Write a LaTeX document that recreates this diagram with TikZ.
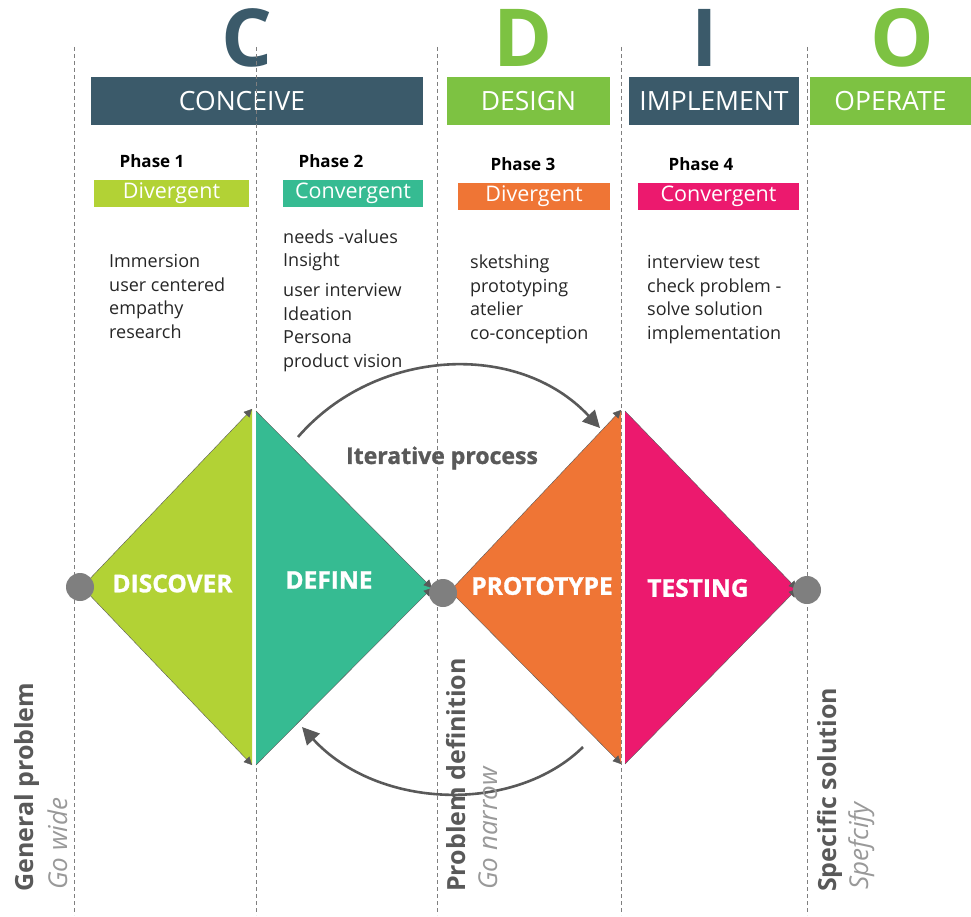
\documentclass[tikz,border=0pt]{standalone}
\usepackage{fontspec}
\setmainfont{Open Sans}
\newfontfamily\heavy[BoldFeatures={FakeBold=1.2}]{Open Sans}
\usetikzlibrary{arrows.meta}

\definecolor{slate}{HTML}{3B5A6A}
\definecolor{leaf}{HTML}{7DC242}
\definecolor{lime}{HTML}{B2D235}
\definecolor{mint}{HTML}{36BB92}
\definecolor{tangerine}{HTML}{EF7535}
\definecolor{rose}{HTML}{EC196E}
\definecolor{ink}{HTML}{595959}
\definecolor{dotgray}{HTML}{7F7F7F}
\definecolor{body}{HTML}{262626}

\newcommand{\pts}[1]{\fontsize{#1}{#1}\selectfont}

\begin{document}
\begin{tikzpicture}[x=1pt,y=-1pt,
  letter/.style={font=\pts{80}\bfseries},
  bar/.style={minimum height=48pt,inner sep=0pt,text=white,font=\pts{26.5}},
  phase/.style={font=\pts{17}\bfseries},
  mode/.style={minimum height=27pt,inner sep=0pt,text=white,font=\pts{21.5}},
  notes/.style={anchor=base west,align=left,inner sep=0pt,text=body,font=\fontsize{18}{23.4}\selectfont},
  sep/.style={dotgray,line width=0.8pt,dash pattern=on 4pt off 3pt},
  stage/.style={text=white,font=\pts{24.5}\heavy\bfseries},
  dot/.style={circle,fill=dotgray,minimum size=28pt,inner sep=0pt},
  edge/.style={draw=ink,line width=0.4pt,-{Triangle[length=8pt,width=8pt]}},
  loop/.style={draw=ink,line width=2.6pt,-{Triangle[length=17pt,width=17pt]}},
  side/.style={rotate=90,anchor=base west,inner sep=0pt,text=ink,font=\pts{25}\bfseries},
  hint/.style={rotate=90,anchor=base west,inner sep=0pt,text=gray!80,font=\pts{26}\itshape}]
\useasboundingbox (0,0) rectangle (971,917);

% big letters
\node[letter,text=slate] (lc) at (247,38) {C};
\node[letter,text=leaf] (ld) at (523,38) {D};
\node[letter,text=slate] (li) at (705,38) {I};
\node[letter,text=leaf] (lo) at (902,38) {O};

% header bars
\node[bar,fill=slate,minimum width=332pt] (conceive) at (257,101) {};
\node[bar] at (242,101) {CONCEIVE};
\node[bar,fill=leaf,minimum width=163pt] (design) at (528.5,101) {DESIGN};
\node[bar,fill=slate,minimum width=170pt] (implement) at (714,101) {IMPLEMENT};
\node[bar,fill=leaf,minimum width=161pt] (operate) at (890.5,101) {OPERATE};

% phases
\node[phase] (p1) at (152,161) {Phase 1};
\node[phase] (p2) at (331,161) {Phase 2};
\node[phase] (p3) at (523,164) {Phase 3};
\node[phase] (p4) at (701,164) {Phase 4};
\node[mode,fill=lime,minimum width=155pt] (m1) at (171.5,193.5) {Divergent};
\node[mode,fill=mint,minimum width=140pt] (m2) at (353,193.5) {Convergent};
\node[mode,fill=tangerine,minimum width=152pt] (m3) at (534,196.5) {Divergent};
\node[mode,fill=rose,minimum width=161pt] (m4) at (718.5,196.5) {Convergent};

% what happens in each phase (placed by the last line)
\node[notes] (n1) at (109,338) {Immersion\\user centered\\empathy\\research};
\node[notes] (n2) at (283,367) {needs -values\\Insight\\[6.5pt]user interview\\Ideation\\Persona\\product vision};
\node[notes] (n3) at (470,339) {sketshing\\prototyping\\atelier\\co-conception};
\node[notes] (n4) at (647,339) {interview test\\check problem -\\solve solution\\implementation};

% column separators
\foreach \x in {74,256.5,437.5,621,807.5}
  \draw[sep] (\x,47) -- (\x,915);

% diamond corners
\coordinate (d1l) at (82,587);
\coordinate (d1t) at (252,409);
\coordinate (d1b) at (252,765);
\coordinate (d2t) at (256,411);
\coordinate (d2b) at (256,765);
\coordinate (d2r) at (432,588);
\coordinate (d3l) at (450,591);
\coordinate (d3t) at (621,410);
\coordinate (d3b) at (621,764);
\coordinate (d4t) at (625,411);
\coordinate (d4b) at (625,764);
\coordinate (d4r) at (797,589);

\fill[lime] (d1l) -- (d1t) -- (d1b) -- cycle;
\fill[mint] (d2t) -- (d2r) -- (d2b) -- cycle;
\fill[tangerine] (d3l) -- (d3t) -- (d3b) -- cycle;
\fill[rose] (d4t) -- (d4r) -- (d4b) -- cycle;

\draw[edge] (d1l) -- (d1t);
\draw[edge] (d1l) -- (d1b);
\draw[edge] (d2t) -- (d2r);
\draw[edge] (d2b) -- (d2r);
\draw[edge] (d3l) -- (d3t);
\draw[edge] (d3l) -- (d3b);
\draw[edge] (d4t) -- (d4r);
\draw[edge] (d4b) -- (d4r);

\node[stage] (discover) at (172.5,583.5) {DISCOVER};
\node[stage] (define) at (329,580) {DEFINE};
\node[stage] (prototype) at (542,586) {PROTOTYPE};
\node[stage] (testing) at (698,588) {TESTING};

% the three milestones
\node[dot] (wide) at (80,587) {};
\node[dot] (narrow) at (443,593) {};
\node[dot] (specific) at (807,590) {};

% iteration loops
\coordinate (up1) at (298,437);
\coordinate (up2) at (600,428);
\coordinate (lo1) at (583,747);
\coordinate (lo2) at (302,727);
\draw[loop] (up1) .. controls (375,348) and (518,340) .. (up2);
\draw[loop] (lo1) .. controls (515,814) and (378,810) .. (lo2);
\node[font=\pts{23}\heavy\bfseries,text=ink] (iter) at (442,458) {Iterative process};

% milestone captions
\node[side] (gen) at (33,892) {General problem};
\node[hint] (gowide) at (67,890) {Go wide};
\node[side] (probdef) at (465,892) {Problem definition};
\node[hint] (gonarrow) at (497,890) {Go narrow};
\node[side] (specsol) at (836,892) {Specific solution};
\node[hint] (spec) at (868,890) {Spefcify};
\end{tikzpicture}
\end{document}
